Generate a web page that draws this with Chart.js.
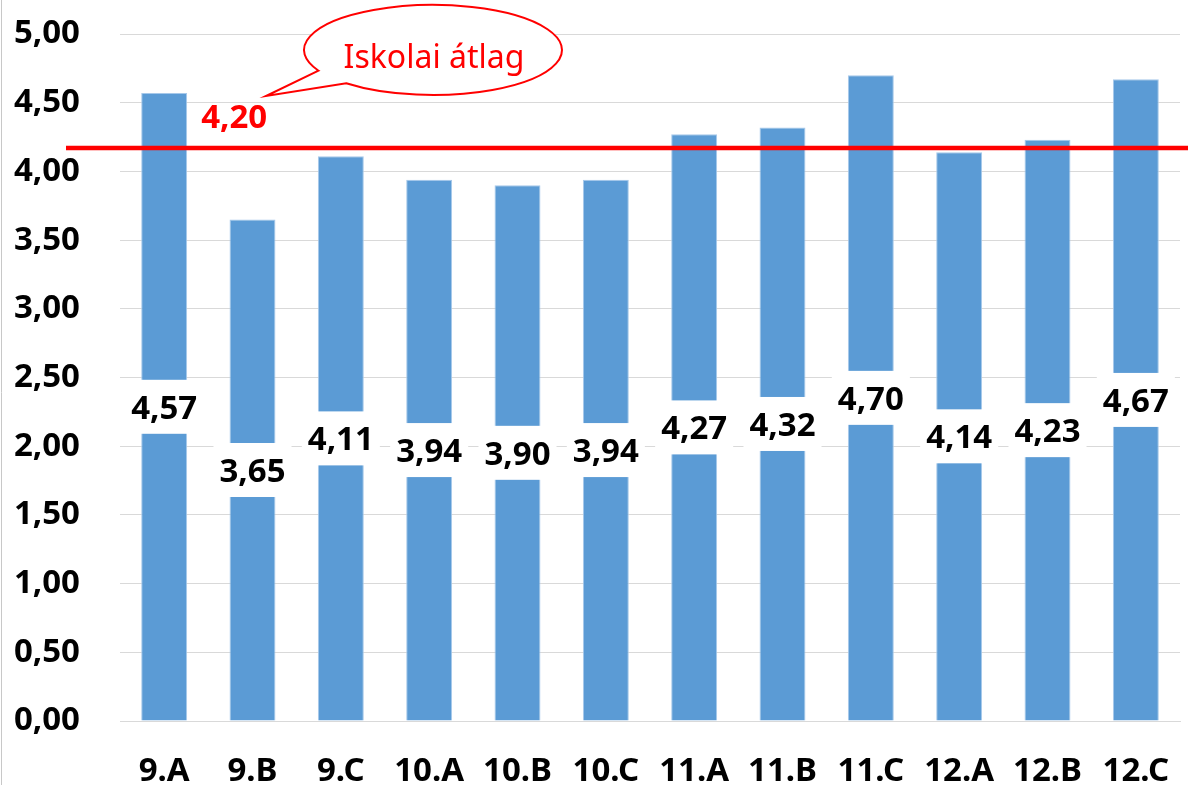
<!DOCTYPE html>
<html>
<head>
<meta charset="utf-8">
<script src="https://cdn.jsdelivr.net/npm/chart.js@4"></script>
<style>
  html, body { margin: 0; padding: 0; background: #fff; }
  #wrap { width: 1188px; height: 785px; }
</style>
</head>
<body>
<div id="wrap"><canvas id="myBarChart" width="1188" height="785"></canvas></div>
<script>
// chart data
const classes = ['9.A', '9.B', '9.C', '10.A', '10.B', '10.C', '11.A', '11.B', '11.C', '12.A', '12.B', '12.C'];
const classAverages = [4.57, 3.65, 4.11, 3.94, 3.90, 3.94, 4.27, 4.32, 4.70, 4.14, 4.23, 4.67];
const yTickLabels = ['0,00', '0,50', '1,00', '1,50', '2,00', '2,50', '3,00', '3,50', '4,00', '4,50', '5,00'];
const schoolAvgLine = 4.17; // where the red line sits in the picture
const schoolAvgLabel = '4,20';
const calloutText = 'Iskolai átlag';

const FONT = '"Noto Sans", "Open Sans", sans-serif';
const fmt = (v) => v.toFixed(2).replace('.', ',');

// white-boxed value labels in the middle of each bar
const barLabels = {
  id: 'barLabels',
  afterDatasetsDraw(chart) {
    const ctx = chart.ctx;
    const meta = chart.getDatasetMeta(0);
    ctx.save();
    ctx.font = 'bold 33px ' + FONT;
    ctx.textAlign = 'center';
    ctx.textBaseline = 'alphabetic';
    meta.data.forEach((bar, i) => {
      const txt = fmt(classAverages[i]);
      const cy = (bar.y + bar.base) / 2;
      const w = ctx.measureText(txt).width + 12;
      ctx.fillStyle = '#fff';
      ctx.fillRect(bar.x - w / 2, cy - 27, w, 54);
      ctx.fillStyle = '#000';
      ctx.fillText(txt, bar.x, cy + 12);
    });
    ctx.restore();
  }
};

// red average line, its label, the speech bubble and the left frame edge
const avgLine = {
  id: 'avgLine',
  afterDraw(chart) {
    const ctx = chart.ctx;
    const y = chart.scales.y.getPixelForValue(schoolAvgLine);
    const x0 = chart.scales.x.getPixelForValue(0);
    ctx.save();
    // frame edge
    ctx.strokeStyle = '#c8c8c8';
    ctx.lineWidth = 1;
    ctx.beginPath();
    ctx.moveTo(1.5, 0);
    ctx.lineTo(1.5, chart.height);
    ctx.stroke();
    // line
    ctx.strokeStyle = '#ff0000';
    ctx.lineWidth = 4.5;
    ctx.beginPath();
    ctx.moveTo(66, y);
    ctx.lineTo(chart.width, y);
    ctx.stroke();
    // value label
    ctx.fillStyle = '#ff0000';
    ctx.font = 'bold 33px ' + FONT;
    ctx.textAlign = 'left';
    ctx.textBaseline = 'alphabetic';
    ctx.fillText(schoolAvgLabel, x0 + 37, y - 20);
    // speech bubble
    const cx = 433, cy = 50, rx = 129, ry = 45;
    ctx.lineWidth = 2;
    ctx.fillStyle = '#fff';
    ctx.beginPath();
    const a1 = Math.atan2((71 - cy) / ry, (317 - cx) / rx);
    const a2 = Math.atan2((83 - cy) / ry, (347 - cx) / rx);
    ctx.ellipse(cx, cy, rx, ry, 0, a1, a2 + Math.PI * 2, false);
    ctx.lineTo(266, 96);
    ctx.closePath();
    ctx.fill();
    ctx.stroke();
    ctx.fillStyle = '#ff0000';
    ctx.font = '32px ' + FONT;
    ctx.textAlign = 'center';
    ctx.fillText(calloutText, cx + 1, cy + 18);
    ctx.restore();
  }
};

const ctx = document.getElementById('myBarChart');
const barChart = new Chart(ctx, {
  type: 'bar',
  data: {
    labels: classes,
    datasets: [{
      data: classAverages,
      backgroundColor: '#5b9bd5',
      borderColor: '#a6c8ea',
      borderWidth: 1,
      barPercentage: 0.52,
      categoryPercentage: 1
    }]
  },
  options: {
    responsive: false,
    animation: false,
    devicePixelRatio: 1,
    layout: { padding: { top: 34, right: 8, left: 0, bottom: 0 } },
    plugins: {
      legend: { display: false },
      tooltip: { enabled: false }
    },
    scales: {
      x: {
        grid: { display: false },
        border: { color: '#d9d9d9', width: 1 },
        ticks: {
          color: '#000',
          font: { family: FONT, size: 33, weight: 'bold' },
          padding: 23,
          maxRotation: 0,
          autoSkip: false
        },
        afterFit(scale) {
          scale.height = 64;
          scale.paddingLeft = 0;
          scale.paddingRight = 0;
        }
      },
      y: {
        min: 0,
        max: 5,
        border: { display: false },
        grid: { color: '#d9d9d9', lineWidth: 1, drawTicks: false },
        ticks: {
          stepSize: 0.5,
          color: '#000',
          padding: 40,
          font: { family: FONT, size: 33, weight: 'bold' },
          callback: (v, i) => yTickLabels[i]
        },
        afterFit(scale) {
          scale.width = 120;
          scale.paddingTop = 0;
          scale.paddingBottom = 0;
        }
      }
    }
  },
  plugins: [barLabels, avgLine]
});
</script>
</body>
</html>
